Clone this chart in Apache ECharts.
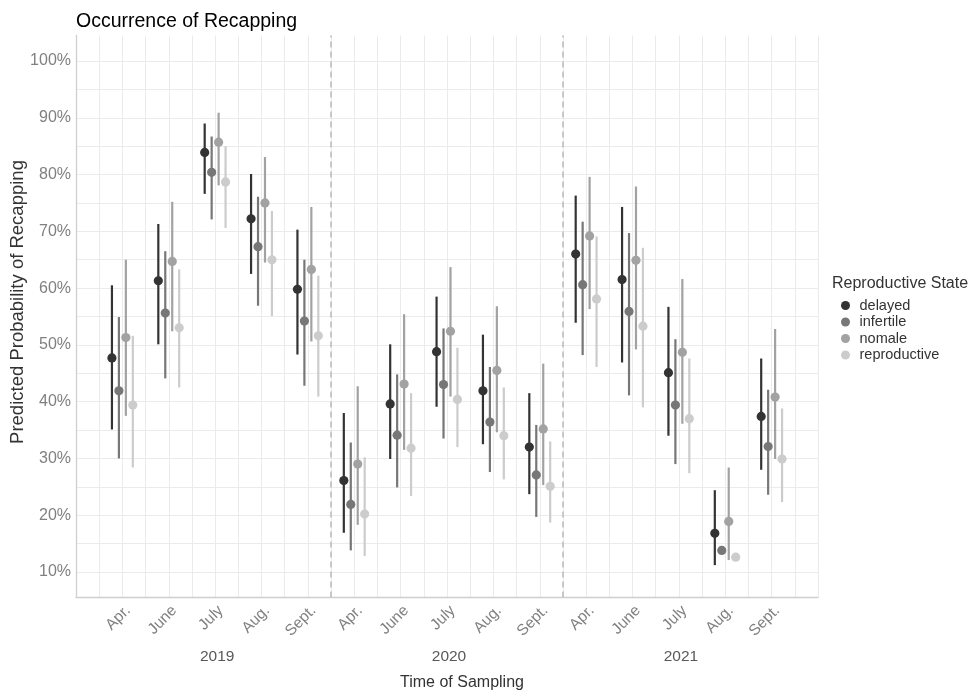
<!DOCTYPE html>
<html><head><meta charset="utf-8">
<script src="https://cdn.jsdelivr.net/npm/echarts@6/dist/echarts.min.js"></script>
<style>html,body{margin:0;padding:0;background:#fff}#c{width:975px;height:691px}</style>
</head><body><div id="c"></div>
<script>
// ---- data ----
const months = ['Apr.','June','July','Aug.','Sept.','Apr.','June','July','Aug.','Sept.','Apr.','June','July','Aug.','Sept.'];
const yearOf = ['2019','2019','2019','2019','2019','2020','2020','2020','2020','2020','2021','2021','2021','2021','2021'];
const groups = ['delayed','infertile','nomale','reproductive'];
const groupColors = ['#333333','#777777','#A2A2A2','#CCCCCC'];

const delayedEst = [47.7, 61.3, 83.9, 72.2, 59.8, 26.1, 39.6, 48.8, 41.9, 32.0, 66.0, 61.5, 45.1, 16.8, 37.4];
const delayedLo  = [35.1, 50.1, 76.6, 62.5, 48.3, 16.9, 29.9, 39.1, 32.5, 23.7, 53.9, 46.9, 34.0, 11.2, 28.0];
const delayedHi  = [60.5, 71.3, 89.0, 80.1, 70.3, 38.0, 50.1, 58.5, 51.8, 41.5, 76.3, 74.3, 56.7, 24.4, 47.6];

const infertileEst = [41.9, 55.6, 80.4, 67.3, 54.2, 21.9, 34.1, 43.0, 36.4, 27.1, 60.6, 55.9, 39.4, 13.8, 32.1];
const infertileLo  = [30.0, 44.1, 72.1, 56.9, 42.8, 13.8, 24.9, 33.5, 27.6, 19.7, 48.2, 41.1, 29.0, 13.8, 23.6];
const infertileHi  = [54.9, 66.5, 86.7, 76.1, 65.0, 32.8, 44.8, 52.9, 46.1, 35.9, 71.7, 69.7, 51.0, 13.8, 42.1];

const nomaleEst = [51.3, 64.7, 85.7, 75.0, 63.3, 29.0, 43.1, 52.4, 45.5, 35.2, 69.2, 64.9, 48.7, 18.9, 40.8];
const nomaleLo  = [37.5, 52.4, 78.1, 64.5, 50.6, 18.3, 31.5, 40.9, 34.6, 25.3, 56.3, 49.2, 36.1, 12.1, 29.9];
const nomaleHi  = [65.0, 75.2, 90.9, 83.1, 74.3, 42.7, 55.4, 63.7, 56.8, 46.7, 79.6, 77.9, 61.6, 28.4, 52.8];

const reproductiveEst = [39.4, 53.0, 78.7, 65.0, 51.6, 20.2, 31.8, 40.4, 34.0, 25.1, 58.1, 53.3, 37.0, 12.6, 29.9];
const reproductiveLo  = [28.4, 42.5, 70.6, 55.1, 40.9, 12.8, 23.4, 32.0, 26.3, 18.7, 46.1, 39.0, 27.4, 12.6, 22.3];
const reproductiveHi  = [51.6, 63.3, 85.0, 73.6, 62.2, 30.2, 41.5, 49.5, 42.5, 33.0, 69.1, 67.1, 47.6, 12.6, 38.8];

const estArr = [delayedEst, infertileEst, nomaleEst, reproductiveEst];
const loArr = [delayedLo, infertileLo, nomaleLo, reproductiveLo];
const hiArr = [delayedHi, infertileHi, nomaleHi, reproductiveHi];

// ---- build ----
const FONT = "'Liberation Sans', Arial, Helvetica, sans-serif";
const dodgeWidth = 0.6;
const nG = groups.length;
const years = [...new Set(yearOf)];
const yearBoundaries = [];
for (let i = 1; i < yearOf.length; i++) if (yearOf[i] !== yearOf[i-1]) yearBoundaries.push(i + 0.5);

function renderItemFor(color) {
  return function (params, api) {
    const x = api.value(0);
    const lo = api.coord([x, api.value(1)]);
    const hi = api.coord([x, api.value(2)]);
    const pt = api.coord([x, api.value(3)]);
    return {
      type: 'group',
      children: [
        { type: 'line', shape: { x1: lo[0], y1: lo[1], x2: hi[0], y2: hi[1] }, style: { stroke: color, lineWidth: 2.2 } },
        { type: 'circle', shape: { cx: pt[0], cy: pt[1], r: 4.6 }, style: { fill: color } }
      ]
    };
  };
}

const series = groups.map((g, gi) => {
  const off = (gi - (nG - 1) / 2) * (dodgeWidth / nG);
  const data = months.map((m, i) => [i + 1 + off, loArr[gi][i], hiArr[gi][i], estArr[gi][i]]);
  const s = {
    name: g,
    type: 'custom',
    xAxisIndex: 0,
    yAxisIndex: 0,
    renderItem: renderItemFor(groupColors[gi]),
    itemStyle: { color: groupColors[gi] },
    encode: { x: 0, y: [1, 2, 3] },
    data: data,
    z: 5 + gi
  };
  if (gi === 0) {
    s.markLine = {
      silent: true,
      symbol: ['none', 'none'],
      label: { show: false },
      lineStyle: { type: [6, 4], color: '#bdbdbd', width: 1.6 },
      data: yearBoundaries.map(b => ({ xAxis: b }))
    };
  }
  return s;
});

const GL = 76, GW = 742;
const option = {
  backgroundColor: '#ffffff',
  animation: false,
  textStyle: { fontFamily: FONT },
  grid: [
    { left: GL, width: GW, top: 35.5, height: 562, outerBoundsMode: 'none', containLabel: false },
    { left: GL, width: GW, top: 61, height: 511, outerBoundsMode: 'none', containLabel: false }
  ],
  xAxis: [
    {
      type: 'value', gridIndex: 0, min: 0, max: months.length + 1, interval: 0.5,
      axisLine: { show: true, lineStyle: { color: '#cfcfcf', width: 1.3 } },
      axisTick: { show: false },
      splitLine: { show: true, lineStyle: { color: '#ebebeb', width: 1 } },
      axisLabel: {
        show: true, rotate: 45, margin: 5, color: '#808080', fontSize: 15.5, fontFamily: FONT,
        align: 'right', verticalAlign: 'top',
        showMinLabel: true, showMaxLabel: true,
        formatter: v => (Number.isInteger(v) && v >= 1 && v <= months.length) ? months[v - 1] : ''
      }
    },
    { type: 'value', gridIndex: 1, min: 0, max: months.length + 1, show: false }
  ],
  yAxis: [
    {
      type: 'value', gridIndex: 0, min: 5.5, max: 104.5,
      axisLine: { show: true, lineStyle: { color: '#cfcfcf', width: 1.3 } },
      axisTick: { show: false }, axisLabel: { show: false }, splitLine: { show: false }
    },
    {
      type: 'value', gridIndex: 1, min: 10, max: 100, interval: 5,
      axisLine: { show: false }, axisTick: { show: false },
      splitLine: { show: true, lineStyle: { color: '#ebebeb', width: 1 } },
      axisLabel: {
        show: true, margin: 5, color: '#808080', fontSize: 16, fontFamily: FONT,
        formatter: v => (Math.round(v) % 10 === 0) ? (Math.round(v) + '%') : ''
      }
    }
  ],
  legend: {
    show: true, orient: 'vertical', left: 836, top: 293,
    data: groups, icon: 'circle', itemWidth: 18, itemHeight: 9, itemGap: 1.5,
    textStyle: { fontSize: 14.5, color: '#333333', fontFamily: FONT },
    selectedMode: false
  },
  series: series
};

const chart = echarts.init(document.getElementById('c'), null, { renderer: 'canvas' });
chart.setOption(option);

// year labels positioned through the axis scale
const graphics = [];
years.forEach(y => {
  const idx = [];
  yearOf.forEach((v, i) => { if (v === y) idx.push(i + 1); });
  const center = idx.reduce((a, b) => a + b, 0) / idx.length;
  const px = chart.convertToPixel({ xAxisIndex: 0 }, center);
  graphics.push({ type: 'text', x: px + 2, y: 657, silent: true,
    style: { text: y, fill: '#595959', font: '15.5px ' + FONT, align: 'center', verticalAlign: 'middle' } });
});
graphics.push({ type: 'text', x: 76, y: 22, silent: true,
  style: { text: 'Occurrence of Recapping', fill: '#000000', font: '19.5px ' + FONT, align: 'left', verticalAlign: 'middle' } });
graphics.push({ type: 'text', x: 462, y: 683, silent: true,
  style: { text: 'Time of Sampling', fill: '#333333', font: '16px ' + FONT, align: 'center', verticalAlign: 'middle' } });
graphics.push({ type: 'text', x: 18, y: 302, rotation: Math.PI / 2, silent: true,
  style: { text: 'Predicted Probability of Recapping', fill: '#333333', font: '18.5px ' + FONT, align: 'center', verticalAlign: 'middle' } });
graphics.push({ type: 'text', x: 832, y: 284, silent: true,
  style: { text: 'Reproductive State', fill: '#333333', font: '16px ' + FONT, align: 'left', verticalAlign: 'middle' } });
chart.setOption({ graphic: graphics });
</script>
</body></html>
